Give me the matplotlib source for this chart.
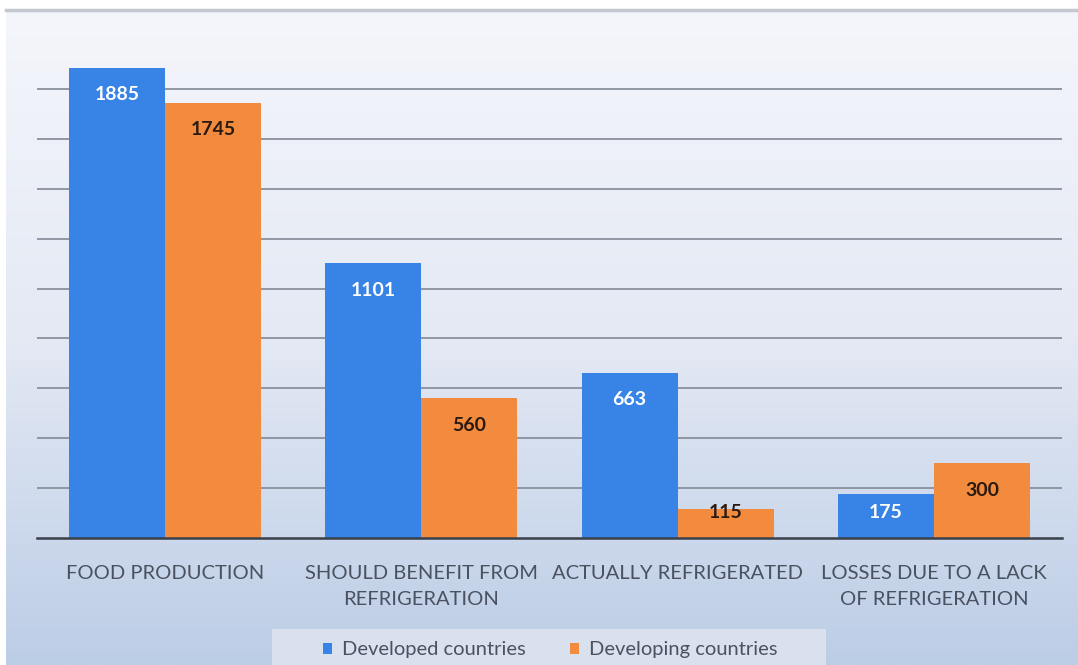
import matplotlib.pyplot as plt
import numpy as np
from matplotlib.colors import LinearSegmentedColormap
from matplotlib.patches import Rectangle

categories = ['FOOD PRODUCTION', 'SHOULD BENEFIT FROM\nREFRIGERATION',
              'ACTUALLY REFRIGERATED', 'LOSSES DUE TO A LACK\nOF REFRIGERATION']
developed = [1885, 1101, 663, 175]
developing = [1745, 560, 115, 300]
series_names = ['Developed countries', 'Developing countries']

blue = '#3784e6'
orange = '#f28b3d'
font = ['Lato', 'DejaVu Sans']

W, H = 1078, 665
fig = plt.figure(figsize=(W / 100, H / 100), dpi=100)
fig.patch.set_facecolor('white')

# gradient backdrop behind the whole chart
bg = fig.add_axes([6 / W, 0, (W - 6) / W, (H - 10) / H])
grad = LinearSegmentedColormap.from_list('bg', ['#f4f6fb', '#e4e9f4', '#bccde6'])
bg.imshow(np.linspace(0, 1, 256).reshape(-1, 1), cmap=grad, aspect='auto',
          extent=[0, 1, 0, 1], origin='upper')
bg.set_xlim(0, 1)
bg.set_ylim(0, 1)
bg.axis('off')
bg.plot([0, 1], [1, 1], color='#c4c8d0', lw=2.5, transform=bg.transAxes, clip_on=False)

ax = fig.add_axes([37 / W, (H - 538) / H, (1062 - 37) / W, (538 - 39) / H])
ax.set_facecolor('none')
x = np.arange(len(categories))
w = 0.375
b1 = ax.bar(x - w / 2, developed, w, color=blue, zorder=3, label=series_names[0])
b2 = ax.bar(x + w / 2, developing, w, color=orange, zorder=3, label=series_names[1])

# value labels sit inside the bar end, but never lower than a fixed floor
for bars, vals, col in [(b1, developed, 'white'), (b2, developing, '#2a1a10')]:
    for rect, v in zip(bars, vals):
        ax.text(rect.get_x() + rect.get_width() / 2, max(v - 108, 104), str(v),
                ha='center', va='center', fontsize=14, fontweight='bold',
                color=col, family=font, zorder=4)

ax.set_xlim(-0.5, len(categories) - 0.5)
ax.set_ylim(0, 2000)
ax.set_yticks(np.arange(200, 2000, 200))
ax.yaxis.grid(True, color='#8a919c', lw=1.3, zorder=1)
ax.tick_params(axis='y', left=False, labelleft=False)
ax.tick_params(axis='x', bottom=False, pad=16)
ax.set_xticks(x)
ax.set_xticklabels(categories, fontsize=14.5, color='#4a5262', family=font,
                   linespacing=1.62, va='top')
for s in ['top', 'right', 'left']:
    ax.spines[s].set_visible(False)
ax.spines['bottom'].set_color('#3a404a')
ax.spines['bottom'].set_linewidth(1.8)
ax.spines['bottom'].set_zorder(5)

# legend strip along the bottom
fig.patches.append(Rectangle((272 / W, 0), (826 - 272) / W, (665 - 629) / H,
                             transform=fig.transFigure, facecolor='#d9e1ef',
                             edgecolor='none', zorder=0.5))
leg = fig.legend(handles=[b1, b2], loc='center', bbox_to_anchor=(550 / W, (665 - 650) / H),
                 ncol=2, frameon=False, handlelength=0.45,
                 handleheight=0.45, handletextpad=0.5, columnspacing=2.2,
                 prop={'family': font, 'size': 14.5})
for t in leg.get_texts():
    t.set_color('#4a5262')

fig.savefig('out.png', dpi=100, facecolor=fig.get_facecolor())
